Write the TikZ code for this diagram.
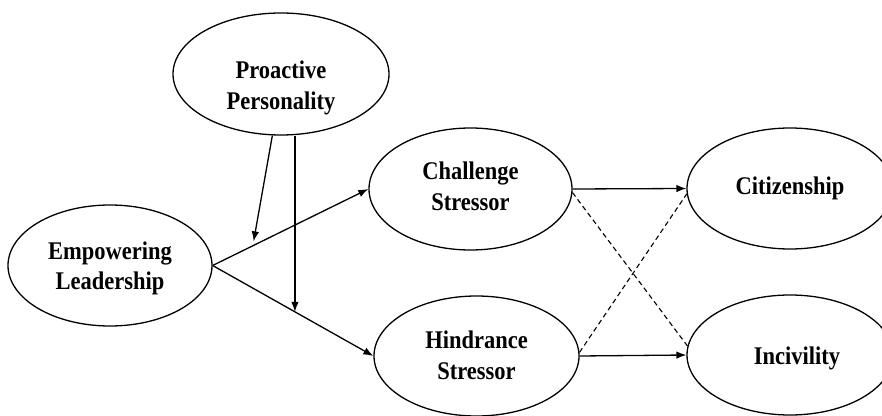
\documentclass[tikz,border=0pt]{standalone}
\usepackage{fontspec}
\setmainfont{Liberation Serif}
\usepackage{graphicx}
\usetikzlibrary{shapes.geometric,arrows.meta,calc}
\newcommand{\lbl}[2][0pt]{\raisebox{#1}[\height][\depth]{\scalebox{1}[1.13]{\begin{tabular}{@{}c@{}}#2\end{tabular}}}}
\begin{document}
\begin{tikzpicture}[x=1pt,y=1pt,
  var/.style={ellipse,draw,line width=1.3pt,inner sep=0pt,font=\fontsize{22.5}{27}\selectfont\bfseries},
  conn/.style={line width=1.3pt,-{Latex[length=10pt,width=7.5pt]}},
  dconn/.style={line width=1.1pt,dash pattern=on 5pt off 3.5pt}]
\useasboundingbox (0,0) rectangle (882,415);
\fill[white] (0,0) rectangle (882,415);
\clip (0,0) rectangle (882,415);
\node[var,minimum width=216pt,minimum height=122pt] (PP) at (281,341) {\lbl[-14pt]{Proactive\\Personality}};
\node[var,minimum width=204pt,minimum height=121pt] (EL) at (110,149.5) {\lbl[-3pt]{Empowering\\Leadership}};
\node[var,minimum width=203pt,minimum height=122pt] (CS) at (470.5,226) {\lbl{Challenge\\Stressor}};
\node[var,minimum width=205pt,minimum height=120pt] (HS) at (476.5,59) {\lbl[-2pt]{Hindrance\\Stressor}};
\node[var,minimum width=206pt,minimum height=121pt] (CZ) at (790,226.5) {\lbl{Citizenship}};
\node[var,minimum width=206pt,minimum height=120pt] (IN) at (790,60) {\hspace*{14pt}\lbl[-3pt]{Incivility}};
\path (EL.east) -- (CS.west) coordinate[pos=0.263] (m1);
\path (EL.east) -- (HS.west) coordinate[pos=0.512] (m2);
\draw[conn] (EL.east) -- (CS.west);
\draw[conn] (EL.east) -- (HS.west);
\draw[conn] (CS.east) -- (CZ.west);
\draw[conn] (HS.east) -- (IN.west);
\draw[dconn] (CS.358) -- (IN.175);
\draw[dconn] (HS.2) -- (CZ.183);
\draw[conn] (PP.262.5) -- ($(m1)+(0,4)$);
\draw[conn] (m2 |- PP.south) -- (m2);
\end{tikzpicture}
\end{document}
